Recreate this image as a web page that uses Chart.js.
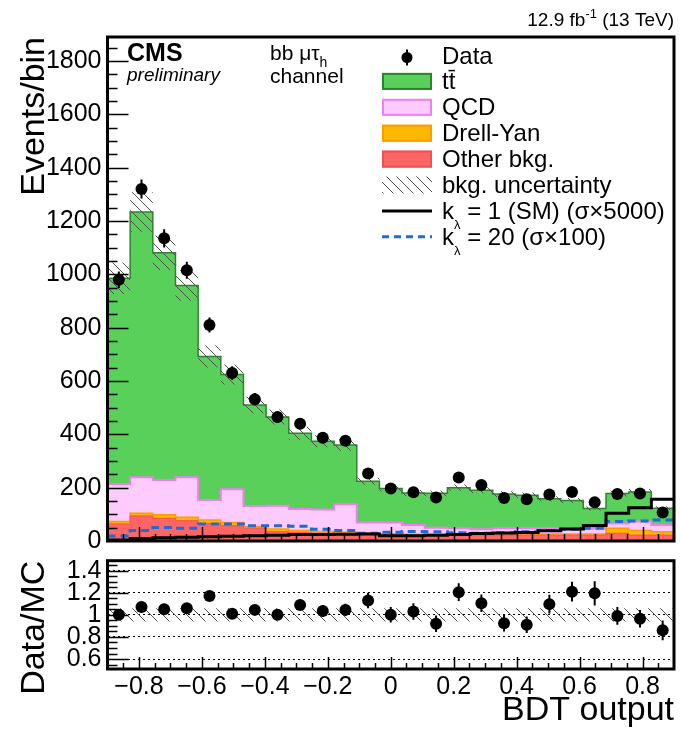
<!DOCTYPE html>
<html>
<head>
<meta charset="utf-8">
<script src="https://cdn.jsdelivr.net/npm/chart.js@4"></script>
<style>
  html, body { margin: 0; padding: 0; background: #fff; }
  #wrap { position: relative; width: 680px; height: 732px; }
  canvas { position: absolute; left: 0; }
  #main { top: 0; }
  #ratio { top: 548px; }
</style>
</head>
<body>
<div id="wrap">
  <canvas id="main" width="680" height="548"></canvas>
  <canvas id="ratio" width="680" height="184"></canvas>
</div>
<script>
const FONT = '"Liberation Sans", Arial, Helvetica, sans-serif';

// BDT output binning: 25 bins between -0.9 and 0.9
const xMin = -0.9, xMax = 0.9, nBins = 25;

const dataCounts = [980, 1320, 1135, 1015, 810, 630, 532, 465, 440, 387, 376, 253, 197, 183, 163, 238, 210, 161, 157, 174, 184, 145, 176, 178, 107];
const dataErr    = [31, 36, 34, 32, 28, 25, 23, 22, 21, 20, 19, 16, 14, 14, 13, 15, 14, 13, 13, 13, 14, 12, 13, 13, 10];

// background components (stacked bottom -> top: other, DY, QCD, ttbar)
const otherBkg = [64, 94, 85, 76, 66, 57, 48, 35, 31, 29, 26, 25, 23, 22, 22, 22, 22, 22, 22, 22, 22, 22, 29, 22, 22];
const drellYan = [9, 10, 13, 13, 13, 12, 6, 10, 8, 7, 7, 5, 4, 3, 3, 3, 3, 3, 3, 4, 4, 4, 19, 17, 13];
const qcd      = [141, 135, 131, 150, 75, 125, 77, 87, 81, 82, 105, 39, 42, 35, 25, 23, 19, 23, 23, 22, 22, 20, 18, 34, 25];
const ttbar    = [771, 995, 852, 719, 538, 430, 379, 333, 284, 256, 222, 155, 128, 120, 129, 152, 146, 128, 124, 110, 104, 76, 112, 111, 63];
const bkgUncRel = [0.06, 0.06, 0.06, 0.06, 0.06, 0.06, 0.06, 0.06, 0.06, 0.06, 0.06, 0.06, 0.06, 0.06, 0.06, 0.06, 0.06, 0.06, 0.06, 0.06, 0.06, 0.06, 0.06, 0.06, 0.06];

// signal hypotheses
const sigSM  = [4, 9, 12, 14, 16, 18, 20, 22, 24, 24, 25, 26, 20, 20, 22, 24, 28, 30, 32, 38, 45, 58, 104, 125, 157];
const sigK20 = [19, 39, 51, 48, 64, 64, 57, 57, 55, 44, 39, 29, 33, 36, 35, 31, 29, 31, 35, 39, 44, 48, 73, 75, 79];

// Data/MC
const ratio    = [1.0, 1.07, 1.05, 1.06, 1.17, 1.01, 1.045, 1.0, 1.09, 1.035, 1.045, 1.13, 1.0, 1.03, 0.92, 1.205, 1.105, 0.925, 0.91, 1.097, 1.21, 1.195, 0.99, 0.965, 0.86];
const ratioErr = [0.03, 0.03, 0.03, 0.035, 0.04, 0.04, 0.045, 0.045, 0.05, 0.055, 0.055, 0.07, 0.07, 0.075, 0.075, 0.08, 0.08, 0.075, 0.075, 0.085, 0.09, 0.11, 0.08, 0.08, 0.09];

const xTickValues = [-0.8, -0.6, -0.4, -0.2, 0, 0.2, 0.4, 0.6, 0.8];
const xTickLabels = ['\u22120.8', '\u22120.6', '\u22120.4', '\u22120.2', '0', '0.2', '0.4', '0.6', '0.8'];
const yTickValues = [0, 200, 400, 600, 800, 1000, 1200, 1400, 1600, 1800];
const yTickLabels = ['0', '200', '400', '600', '800', '1000', '1200', '1400', '1600', '1800'];
const rTickValues = [0.6, 0.8, 1, 1.2, 1.4];
const rTickLabels = ['0.6', '0.8', '1', '1.2', '1.4'];

const legendLabels = ['Data', 'tt\u0304', 'QCD', 'Drell-Yan', 'Other bkg.', 'bkg. uncertainty', 'k_\u03bb = 1 (SM) (\u03c3\u00d75000)', 'k_\u03bb = 20 (\u03c3\u00d7100)'];

const colTT = '#59d05a', colTTLine = '#2a862a';
const colQCD = '#fdcbfd', colQCDLine = '#ef7fef';
const colDY = '#ffb800', colDYLine = '#ff9a00';
const colOther = '#fe6666', colOtherLine = '#f25050';
const colK20 = '#1f6ad6';

const binWidth = (xMax - xMin) / nBins;
const edges = Array.from({length: nBins + 1}, (_, i) => xMin + i * binWidth);
const centers = edges.slice(0, nBins).map(e => e + binWidth / 2);

function histPoints(vals) {
  const pts = vals.map((v, i) => ({x: edges[i], y: v}));
  pts.push({x: xMax, y: vals[vals.length - 1]});
  return pts;
}
function addUp(...arrs) {
  return arrs[0].map((_, i) => arrs.reduce((s, a) => s + a[i], 0));
}
function steps(lo, hi, step) {
  const out = [];
  for (let v = lo; v <= hi + 1e-9; v += step) out.push(v);
  return out;
}

const stackDY = addUp(otherBkg, drellYan);
const stackQCD = addUp(otherBkg, drellYan, qcd);
const stackTotal = addUp(otherBkg, drellYan, qcd, ttbar);

function makeHatch(ctx, step, color) {
  const c = document.createElement('canvas');
  c.width = step; c.height = step;
  const g = c.getContext('2d');
  g.strokeStyle = color; g.lineWidth = 1;
  g.beginPath();
  g.moveTo(-1, -1); g.lineTo(step + 1, step + 1);
  g.moveTo(-2, step - 2); g.lineTo(2, step + 2);
  g.moveTo(step - 2, -2); g.lineTo(step + 2, 2);
  g.stroke();
  return ctx.createPattern(c, 'repeat');
}

const mainCtx = document.getElementById('main').getContext('2d');
const ratioCtx = document.getElementById('ratio').getContext('2d');
const hatchMain = makeHatch(mainCtx, 10, '#505050');
const hatchRatio = makeHatch(ratioCtx, 12, '#505050');

// vertical error bars for datasets carrying an errorBars array
const errorBars = {
  id: 'errorBars',
  afterDatasetsDraw(chart) {
    const {ctx, scales: {y}} = chart;
    chart.data.datasets.forEach((ds, di) => {
      if (!ds.errorBars) return;
      const meta = chart.getDatasetMeta(di);
      ctx.save();
      ctx.strokeStyle = '#000';
      ctx.lineWidth = 2;
      ctx.beginPath();
      meta.data.forEach((pt, i) => {
        const v = ds.data[i].y, e = ds.errorBars[i];
        ctx.moveTo(pt.x, y.getPixelForValue(v - e));
        ctx.lineTo(pt.x, y.getPixelForValue(v + e));
      });
      ctx.stroke();
      ctx.restore();
    });
  }
};

// ROOT-like frame with inward ticks
function rootFrame(cfg) {
  return {
    id: 'rootFrame',
    afterDatasetsDraw(chart) {
      const {ctx, chartArea: a, scales: {x, y}} = chart;
      ctx.save();
      ctx.strokeStyle = '#000';
      ctx.lineWidth = 1.5;
      ctx.beginPath();
      cfg.xMinor.forEach(v => {
        const px = Math.round(x.getPixelForValue(v)) + 0.5;
        const len = cfg.xMajor.some(m => Math.abs(m - v) < 1e-6) ? cfg.xMajorLen : cfg.xMinorLen;
        ctx.moveTo(px, a.bottom); ctx.lineTo(px, a.bottom - len);
      });
      cfg.yMinor.forEach(v => {
        const py = Math.round(y.getPixelForValue(v)) + 0.5;
        const len = cfg.yMajor.some(m => Math.abs(m - v) < 1e-6) ? cfg.yMajorLen : cfg.yMinorLen;
        ctx.moveTo(a.left, py); ctx.lineTo(a.left + len, py);
      });
      ctx.stroke();
      ctx.lineWidth = 3;
      ctx.strokeRect(a.left, a.top, a.right - a.left, a.bottom - a.top);
      ctx.restore();
    }
  };
}

function drawParts(ctx, x, y, parts) {
  parts.forEach(p => {
    ctx.font = `${p.style || ''} ${p.weight || ''} ${p.size}px ${FONT}`;
    ctx.fillText(p.t, x, y + (p.dy || 0));
    x += ctx.measureText(p.t).width;
  });
  return x;
}
function partsWidth(ctx, parts) {
  return parts.reduce((w, p) => {
    ctx.font = `${p.style || ''} ${p.weight || ''} ${p.size}px ${FONT}`;
    return w + ctx.measureText(p.t).width;
  }, 0);
}

const annotations = {
  id: 'annotations',
  afterDraw(chart) {
    const ctx = chart.ctx;
    ctx.save();
    ctx.fillStyle = '#000';
    ctx.textBaseline = 'alphabetic';
    ctx.textAlign = 'left';

    const lumi = [{t: '12.9 fb', size: 19}, {t: '-1', size: 13, dy: -8}, {t: ' (13 TeV)', size: 19}];
    drawParts(ctx, 674 - partsWidth(ctx, lumi), 26, lumi);

    drawParts(ctx, 127, 60.5, [{t: 'CMS', size: 25, weight: 'bold'}]);
    drawParts(ctx, 127, 81, [{t: 'preliminary', size: 19, style: 'italic'}]);
    drawParts(ctx, 270, 59.5, [{t: 'bb \u03bc\u03c4', size: 21}, {t: 'h', size: 14, dy: 7}]);
    drawParts(ctx, 270, 83.3, [{t: 'channel', size: 21}]);

    // legend
    const sx = 382, sw = 50, tx = 442;
    legendLabels.forEach((label, i) => {
      const base = 63.5 + 25.9 * i;
      const mid = base - 8;
      ctx.save();
      if (i === 0) {
        ctx.beginPath(); ctx.arc(sx + sw / 2, base - 6, 5.5, 0, Math.PI * 2); ctx.fill();
        ctx.strokeStyle = '#000'; ctx.lineWidth = 2;
        ctx.beginPath(); ctx.moveTo(sx + sw / 2, base - 14); ctx.lineTo(sx + sw / 2, base + 2); ctx.stroke();
      } else if (i >= 1 && i <= 4) {
        const fills = [colTT, colQCD, colDY, colOther], lines = [colTTLine, colQCDLine, colDYLine, colOtherLine];
        ctx.fillStyle = fills[i - 1];
        ctx.fillRect(sx, base - 16.5, sw, 17);
        ctx.strokeStyle = lines[i - 1]; ctx.lineWidth = 2;
        ctx.strokeRect(sx + 1, base - 15.5, sw - 2, 15);
      } else if (i === 5) {
        ctx.fillStyle = hatchMain;
        ctx.fillRect(sx, base - 16.5, sw, 17);
      } else {
        ctx.strokeStyle = i === 6 ? '#000' : colK20;
        ctx.lineWidth = 3;
        if (i === 7) ctx.setLineDash([7, 5]);
        ctx.beginPath(); ctx.moveTo(sx, mid); ctx.lineTo(sx + sw, mid); ctx.stroke();
      }
      ctx.restore();
      let parts;
      if (label.includes('_')) {
        const [a, rest] = label.split('_');
        parts = [{t: a, size: 24}, {t: rest[0], size: 13, dy: 10}, {t: rest.slice(1), size: 24}];
      } else {
        parts = [{t: label, size: 24}];
      }
      drawParts(ctx, tx, base, parts);
    });
    ctx.restore();
  }
};

// Chart.js 'before' = horizontal at the left point's value, then vertical: histogram steps
const lineBase = {stepped: 'before', pointRadius: 0, pointHoverRadius: 0};

new Chart(mainCtx, {
  type: 'line',
  data: {
    datasets: [
      {...lineBase, label: 'unc up', data: histPoints(stackTotal.map((v, i) => v * (1 + bkgUncRel[i]))), borderWidth: 0, borderColor: 'rgba(0,0,0,0)', fill: false, order: 2},
      {...lineBase, label: 'bkg. uncertainty', data: histPoints(stackTotal.map((v, i) => v * (1 - bkgUncRel[i]))), borderWidth: 0, borderColor: 'rgba(0,0,0,0)', fill: '-1', backgroundColor: hatchMain, order: 2},
      {label: 'Data', data: centers.map((x, i) => ({x, y: dataCounts[i]})), showLine: false, pointRadius: 6, pointBackgroundColor: '#000', pointBorderWidth: 0, order: 0, errorBars: dataErr},
      {...lineBase, label: 'SM', data: histPoints(sigSM), borderColor: '#000', borderWidth: 3, fill: false, order: 1},
      {...lineBase, label: 'k20', data: histPoints(sigK20), borderColor: colK20, borderWidth: 3, borderDash: [8, 5], fill: false, order: 1},
      {...lineBase, label: 'Other bkg.', data: histPoints(otherBkg), borderColor: colOtherLine, borderWidth: 1, backgroundColor: colOther, fill: 'origin', order: 3},
      {...lineBase, label: 'Drell-Yan', data: histPoints(stackDY), borderColor: colDYLine, borderWidth: 1.5, backgroundColor: colDY, fill: 'origin', order: 4},
      {...lineBase, label: 'QCD', data: histPoints(stackQCD), borderColor: colQCDLine, borderWidth: 2, backgroundColor: colQCD, fill: 'origin', order: 5},
      {...lineBase, label: 'ttbar', data: histPoints(stackTotal), borderColor: colTTLine, borderWidth: 1.5, backgroundColor: colTT, fill: 'origin', order: 6}
    ]
  },
  options: {
    responsive: false,
    animation: false,
    events: [],
    layout: {padding: {top: 37, right: 5, bottom: 7, left: 0}},
    plugins: {legend: {display: false}, tooltip: {enabled: false}},
    scales: {
      x: {type: 'linear', min: xMin, max: xMax, bounds: 'data', display: false},
      y: {
        type: 'linear', min: 0, max: 1890, bounds: 'data',
        afterBuildTicks: s => { s.ticks = yTickValues.map(v => ({value: v})); },
        afterFit: s => { s.width = 107.5; s.paddingTop = 0; s.paddingBottom = 0; },
        grid: {display: false, drawTicks: false},
        border: {display: false},
        ticks: {color: '#000', padding: 6, autoSkip: false, font: {family: FONT, size: 25}, callback: (v, i) => yTickLabels[i]},
        title: {display: true, text: 'Events/bin', align: 'end', color: '#000', font: {family: FONT, size: 34}, padding: {top: 14, bottom: 0}}
      }
    }
  },
  plugins: [errorBars, rootFrame({
    xMajor: xTickValues, xMinor: steps(-0.85, 0.85, 0.05), xMajorLen: 14, xMinorLen: 7,
    yMajor: yTickValues, yMinor: steps(50, 1850, 50), yMajorLen: 21, yMinorLen: 10
  }), annotations]
});

new Chart(ratioCtx, {
  type: 'line',
  data: {
    datasets: [
      {...lineBase, label: 'unc up', data: histPoints(bkgUncRel.map(u => 1 + u)), borderWidth: 0, borderColor: 'rgba(0,0,0,0)', fill: false, order: 2},
      {...lineBase, label: 'unc down', data: histPoints(bkgUncRel.map(u => 1 - u)), borderWidth: 0, borderColor: 'rgba(0,0,0,0)', fill: '-1', backgroundColor: hatchRatio, order: 2},
      {label: 'Data/MC', data: centers.map((x, i) => ({x, y: ratio[i]})), showLine: false, pointRadius: 6, pointBackgroundColor: '#000', pointBorderWidth: 0, order: 0, errorBars: ratioErr}
    ]
  },
  options: {
    responsive: false,
    animation: false,
    events: [],
    layout: {padding: {top: 12.7, right: 5, bottom: 0, left: 0}},
    plugins: {legend: {display: false}, tooltip: {enabled: false}},
    scales: {
      x: {
        type: 'linear', min: xMin, max: xMax, bounds: 'data',
        afterBuildTicks: s => { s.ticks = xTickValues.map(v => ({value: v})); },
        afterFit: s => { s.height = 63; s.paddingLeft = 0; s.paddingRight = 0; },
        grid: {display: false, drawTicks: false},
        border: {display: false},
        ticks: {color: '#000', padding: 3, autoSkip: false, maxRotation: 0, font: {family: FONT, size: 25}, callback: (v, i) => xTickLabels[i]},
        title: {display: true, text: 'BDT output', align: 'end', color: '#000', font: {family: FONT, size: 34}, padding: {top: 0, bottom: 1}}
      },
      y: {
        type: 'linear', min: 0.51, max: 1.49, bounds: 'data',
        afterBuildTicks: s => { s.ticks = rTickValues.map(v => ({value: v})); },
        afterFit: s => { s.width = 107.5; s.paddingTop = 0; s.paddingBottom = 0; },
        grid: {display: true, drawTicks: false, color: '#000', lineWidth: 1},
        border: {display: false, dash: [2, 3]},
        ticks: {color: '#000', padding: 6, autoSkip: false, font: {family: FONT, size: 25}, callback: (v, i) => rTickLabels[i]},
        title: {display: true, text: 'Data/MC', align: 'end', color: '#000', font: {family: FONT, size: 34}, padding: {top: 14, bottom: 0}}
      }
    }
  },
  plugins: [errorBars, rootFrame({
    xMajor: xTickValues, xMinor: steps(-0.85, 0.85, 0.05), xMajorLen: 12, xMinorLen: 6,
    yMajor: rTickValues, yMinor: steps(0.55, 1.45, 0.05), yMajorLen: 21, yMinorLen: 10
  })]
});
</script>
</body>
</html>
